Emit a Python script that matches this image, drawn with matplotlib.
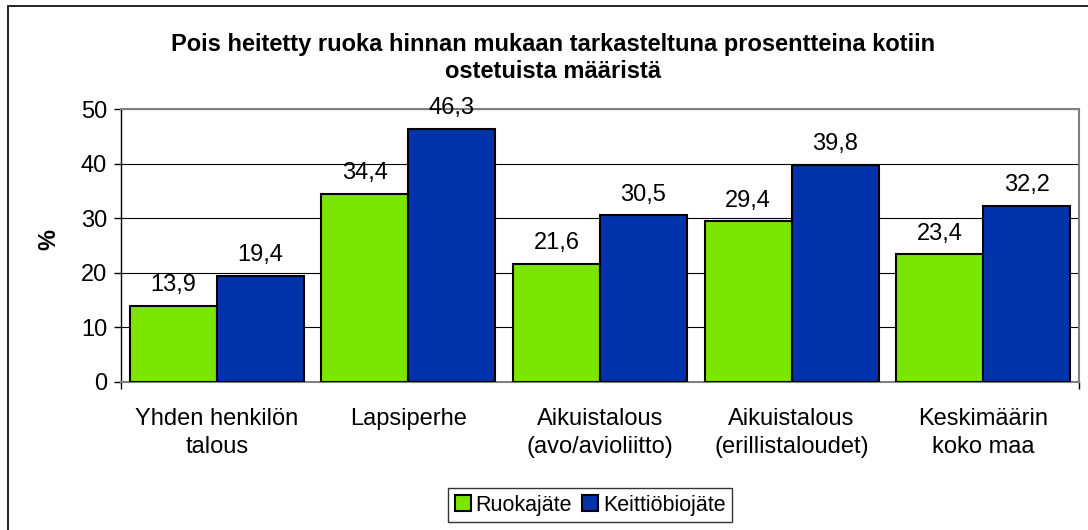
import matplotlib.pyplot as plt
import numpy as np
from matplotlib.patches import Rectangle

plt.rcParams['font.family'] = ['Liberation Sans', 'DejaVu Sans']

# Data
kategoriat = ['Yhden henkilön\ntalous', 'Lapsiperhe', 'Aikuistalous\n(avo/avioliitto)',
              'Aikuistalous\n(erillistaloudet)', 'Keskimäärin\nkoko maa']
ruokajate = [13.9, 34.4, 21.6, 29.4, 23.4]
keittiobiojate = [19.4, 46.3, 30.5, 39.8, 32.2]
sarjat = ['Ruokajäte', 'Keittiöbiojäte']
y_ticks = [0, 10, 20, 30, 40, 50]

vihrea = '#7AE600'
sininen = '#0033AA'
fs = 17

fig = plt.figure(figsize=(10.88, 5.30), dpi=100)
ax = fig.add_axes([121 / 1088, 1 - 382 / 530, 958 / 1088, 273 / 530])

# outer chart frame (right/bottom cut off like in the original)
fig.patches.append(Rectangle((8 / 1088, -0.02), 1.1, 1 - 6 / 530 + 0.02,
                             transform=fig.transFigure, fill=False,
                             edgecolor='black', linewidth=1.2))

x = np.arange(len(kategoriat))
w = 0.454
b1 = ax.bar(x - w / 2, ruokajate, w, color=vihrea, edgecolor='black', linewidth=1.5,
            label=sarjat[0], zorder=3)
b2 = ax.bar(x + w / 2, keittiobiojate, w, color=sininen, edgecolor='black', linewidth=1.5,
            label=sarjat[1], zorder=3)

for bars in (b1, b2):
    for r in bars:
        v = r.get_height()
        ax.annotate(f'{v:.1f}'.replace('.', ','), (r.get_x() + r.get_width() / 2, v),
                    xytext=(0, 7), textcoords='offset points', ha='center', va='bottom',
                    fontsize=fs)

ax.set_xlim(-0.5, len(kategoriat) - 0.5)
ax.set_ylim(0, 50)
ax.set_yticks(y_ticks)
ax.tick_params(axis='y', labelsize=fs, length=5, width=1, direction='out', pad=5)
ax.set_xticks(x)
ax.set_xticklabels(kategoriat, fontsize=fs, linespacing=1.35)
ax.tick_params(axis='x', length=0, pad=19)
ax.set_xticks([-0.5, len(kategoriat) - 0.5], minor=True)
ax.tick_params(axis='x', which='minor', length=5, width=1)

ax.grid(axis='y', color='black', linewidth=0.8, zorder=0)
ax.set_axisbelow(True)
for s in ('top', 'right', 'bottom'):
    ax.spines[s].set_color('#808080')
    ax.spines[s].set_linewidth(1.5)
ax.spines['left'].set_linewidth(1)

fig.text(49 / 1088, 1 - 240 / 530, '%', rotation=90, fontsize=fs, fontweight='bold',
         ha='center', va='center')

fig.text(553 / 1088, 1 - 58 / 530,
         'Pois heitetty ruoka hinnan mukaan tarkasteltuna prosentteina kotiin\nostetuista määristä',
         ha='center', va='center', fontsize=fs, fontweight='bold', linespacing=1.25)

leg = fig.legend(loc='center', bbox_to_anchor=(590 / 1088, 1 - 505 / 530), ncol=2,
                 fontsize=15.5, frameon=True, fancybox=False, edgecolor='black',
                 handlelength=0.75, handleheight=0.75, handletextpad=0.2, columnspacing=0.5,
                 borderpad=0.3)
leg.get_frame().set_linewidth(1)

fig.savefig('out.png', dpi=100)
